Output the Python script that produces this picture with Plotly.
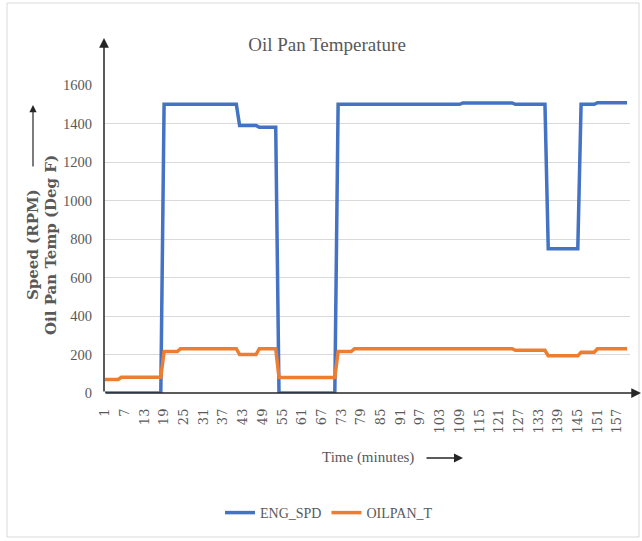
import plotly.graph_objects as go

minutes = [str(i) for i in range(1, 161)]
tick_labels = [str(i) for i in range(1, 161, 6)]

eng_spd = [
    0, 0, 0, 0, 0, 0, 0, 0, 0, 0, 0, 0, 0, 0, 0, 0, 0, 0, 1500, 1500,
    1500, 1500, 1500, 1500, 1500, 1500, 1500, 1500, 1500, 1500, 1500, 1500, 1500, 1500, 1500, 1500, 1500, 1500, 1500, 1500,
    1500, 1390, 1390, 1390, 1390, 1390, 1390, 1380, 1380, 1380, 1380, 1380, 1380, 0, 0, 0, 0, 0, 0, 0,
    0, 0, 0, 0, 0, 0, 0, 0, 0, 0, 0, 1500, 1500, 1500, 1500, 1500, 1500, 1500, 1500, 1500,
    1500, 1500, 1500, 1500, 1500, 1500, 1500, 1500, 1500, 1500, 1500, 1500, 1500, 1500, 1500, 1500, 1500, 1500, 1500, 1500,
    1500, 1500, 1500, 1500, 1500, 1500, 1500, 1500, 1500, 1507, 1507, 1507, 1507, 1507, 1507, 1507, 1507, 1507, 1507, 1507,
    1507, 1507, 1507, 1507, 1507, 1500, 1500, 1500, 1500, 1500, 1500, 1500, 1500, 1500, 1500, 750, 750, 750, 750, 750,
    750, 750, 750, 750, 750, 1500, 1500, 1500, 1500, 1500, 1508, 1508, 1508, 1508, 1508, 1508, 1508, 1508, 1508, 1508,
]

oilpan_t = [
    70, 70, 70, 70, 70, 82, 82, 82, 82, 82, 82, 82, 82, 82, 82, 82, 82, 82, 215, 215,
    215, 215, 215, 230, 230, 230, 230, 230, 230, 230, 230, 230, 230, 230, 230, 230, 230, 230, 230, 230,
    230, 200, 200, 200, 200, 200, 200, 230, 230, 230, 230, 230, 230, 80, 80, 80, 80, 80, 80, 80,
    80, 80, 80, 80, 80, 80, 80, 80, 80, 80, 80, 215, 215, 215, 215, 215, 230, 230, 230, 230,
    230, 230, 230, 230, 230, 230, 230, 230, 230, 230, 230, 230, 230, 230, 230, 230, 230, 230, 230, 230,
    230, 230, 230, 230, 230, 230, 230, 230, 230, 230, 230, 230, 230, 230, 230, 230, 230, 230, 230, 230,
    230, 230, 230, 230, 230, 222, 222, 222, 222, 222, 222, 222, 222, 222, 222, 193, 193, 193, 193, 193,
    193, 193, 193, 193, 193, 212, 212, 212, 212, 212, 230, 230, 230, 230, 230, 230, 230, 230, 230, 230,
]

SERIF = "Liberation Serif, Times New Roman, serif"
WIDE_SERIF = "DejaVu Serif, serif"
GRAY = "#595959"
W, H = 642, 541
L, R, T, B = 104, 12, 85, 148
PW, PH = W - L - R, H - T - B


def px(x):
    return (x - L) / PW


def py(y):
    return (H - B - y) / PH


def arrow(xh, yh, ax, ay, width=1.5, size=1.3):
    return dict(x=px(xh), y=py(yh), xref="paper", yref="paper", ax=ax, ay=ay,
                axref="pixel", ayref="pixel", text="", showarrow=True, arrowhead=2,
                arrowsize=size, arrowwidth=width, arrowcolor="#262626")


def label(xc, yc, text, size, family, angle=0):
    return dict(x=px(xc), y=py(yc), xref="paper", yref="paper", text=text,
                textangle=angle, showarrow=False, xanchor="center", yanchor="middle",
                font=dict(family=family, size=size, color=GRAY))


fig = go.Figure()
fig.add_trace(go.Scatter(x=minutes, y=eng_spd, mode="lines", name="ENG_SPD",
                         line=dict(color="#4472C4", width=3.5)))
fig.add_trace(go.Scatter(x=minutes, y=oilpan_t, mode="lines", name="OILPAN_T",
                         line=dict(color="#ED7D31", width=3.5)))

annotations = [
    arrow(L, 38, 0, (H - B) - 38),          # y axis arrow
    arrow(641, H - B, -(641 - L), 0),       # x axis arrow
    label(33, 245, "<b>Speed (RPM)</b>", 15, WIDE_SERIF, -90),
    arrow(33, 105, 0, 63, width=1.2, size=1.2),
    label(51, 245, "<b>Oil Pan Temp (Deg F)</b>", 15, WIDE_SERIF, -90),
    label(368, 457, "Time (minutes)", 15, SERIF),
    arrow(463, 458, -38, 0, width=1.5, size=1.2),
]

fig.update_layout(
    width=W, height=H,
    margin=dict(l=L, r=R, t=T, b=B),
    paper_bgcolor="white", plot_bgcolor="white",
    title=dict(text="Oil Pan Temperature", x=327 / W, xanchor="center",
               y=1 - 44 / H, yanchor="middle",
               font=dict(family=SERIF, size=19, color=GRAY)),
    xaxis=dict(type="category", range=[-0.3, 159.9], tickmode="array",
               tickvals=tick_labels, ticktext=tick_labels, tickangle=-90,
               showgrid=False, showline=False, zeroline=False, ticks="",
               ticklabelstandoff=12,
               tickfont=dict(family=WIDE_SERIF, size=13, color=GRAY)),
    yaxis=dict(range=[0, 1600], dtick=200, showgrid=True, gridcolor="#d9d9d9",
               gridwidth=1, showline=False, zeroline=False, ticks="",
               ticklabelstandoff=11,
               tickfont=dict(family=SERIF, size=14.5, color=GRAY)),
    legend=dict(orientation="h", x=px(329), xanchor="center", y=py(513),
                yanchor="middle", font=dict(family=SERIF, size=14, color=GRAY)),
    annotations=annotations,
    shapes=[dict(type="rect", xref="paper", yref="paper",
                 x0=px(7), x1=px(639), y0=py(537), y1=py(3),
                 line=dict(color="#d9d9d9", width=1))],
)

fig.write_html("out.html")
